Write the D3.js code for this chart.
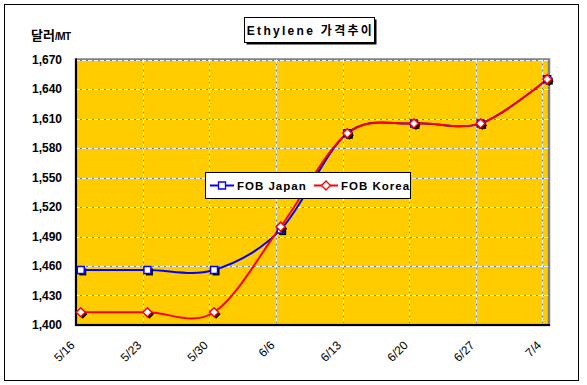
<!DOCTYPE html>
<html><head><meta charset="utf-8">
<script src="https://cdn.jsdelivr.net/npm/d3@7"></script>
<style>
html,body{margin:0;padding:0;background:#fff;}
text{font-family:"Liberation Sans",Arial,sans-serif;}
</style></head>
<body><svg id="c" width="587" height="385"></svg>
<script>
const categories = ["5/16","5/23","5/30","6/6","6/13","6/20","6/27","7/4"];
const fobJapan = [1456,1456,1456,1497,1595,1605,1605,1650];
const fobKorea = [1413,1413,1413,1500,1595,1605,1605,1650];
const yTicks = [1400,1430,1460,1490,1520,1550,1580,1610,1640,1670];
const seriesNames = ["FOB Japan","FOB Korea"];
const titleText = "Ethylene 가격추이";
const yUnit = ["달러","/MT"];

const parse = s => { const [m,d] = s.split("/").map(Number); return new Date(2008, m-1, d); };
const dates = categories.map(parse);

const svg = d3.select("#c");
const L = 76, R = 549, T = 59.5, B = 325;

const x = d3.scaleTime()
  .domain([dates[0], d3.timeDay.offset(dates[dates.length-1], 1)])
  .range([L, L + 476]);
const y = d3.scaleLinear().domain([1400,1670]).range([B, T]);
const px = d => x(d3.timeHour.offset(d, 12));

// outer border
svg.append("rect").attr("x",4.5).attr("y",4.5).attr("width",574).attr("height",376)
  .attr("fill","#fff").attr("stroke","#000").attr("stroke-width",1);

// plot area
svg.append("rect").attr("x",L).attr("y",T).attr("width",R-L).attr("height",B-T)
  .attr("fill","#FFCC00").attr("stroke","#808080").attr("stroke-width",2.5);

// gridlines
const grid = svg.append("g");
yTicks.slice(1).forEach(v => {
  [["#808080",null],["#fff","4,2"]].forEach(([c,da]) => {
    grid.append("line").attr("x1",L).attr("x2",R).attr("y1",Math.round(y(v))+0.5).attr("y2",Math.round(y(v))+0.5)
      .attr("stroke",c).attr("stroke-width",1).attr("stroke-dasharray",da);
  });
});
dates.slice(1).forEach(d => {
  [["#808080",null],["#fff","4,2"]].forEach(([c,da]) => {
    grid.append("line").attr("x1",Math.round(x(d))+0.5).attr("x2",Math.round(x(d))+0.5).attr("y1",T).attr("y2",B)
      .attr("stroke",c).attr("stroke-width",1).attr("stroke-dasharray",da);
  });
});

// axes lines
svg.append("line").attr("x1",L).attr("x2",L).attr("y1",T-1).attr("y2",B).attr("stroke","#000").attr("stroke-width",2);
svg.append("line").attr("x1",L-1).attr("x2",R+1).attr("y1",B).attr("y2",B).attr("stroke","#000").attr("stroke-width",2);

// y axis ticks
const yAxis = d3.axisLeft(y).tickValues(yTicks).tickSize(0).tickPadding(14).tickFormat(d3.format(","));
const yg = svg.append("g").attr("transform",`translate(${L},0)`).call(yAxis);
yg.select(".domain").remove();
yg.selectAll("text").attr("font-size",12).attr("font-weight","bold").attr("fill","#000")
  .attr("font-family","'Liberation Sans',Arial,sans-serif");

// x axis ticks
const xAxis = d3.axisBottom(x).tickValues(dates).tickSize(0).tickFormat((d,i)=>categories[i]);
const xg = svg.append("g").attr("transform",`translate(0,${B})`).call(xAxis);
xg.select(".domain").remove();
xg.selectAll("text").attr("font-size",12).attr("fill","#000")
  .attr("font-family","'Liberation Sans',Arial,sans-serif")
  .attr("text-anchor","end").attr("dy",0).attr("y",0)
  .attr("transform","translate(-1,21) rotate(-45)");

// lines
const line = d3.line().x((v,i)=>px(dates[i])).y(v=>y(v)).curve(d3.curveCardinal.tension(0));
const series = [
  {vals: fobJapan, color:"#0000FF", shape:"square"},
  {vals: fobKorea, color:"#FF0000", shape:"diamond"}
];
const markerPath = (shape) => shape==="square"
  ? "M-3.5,-3.5H3.5V3.5H-3.5Z"
  : "M0,-4.5L4.5,0L0,4.5L-4.5,0Z";

series.forEach(s => {
  svg.append("path").datum(s.vals).attr("d",line).attr("fill","none")
    .attr("stroke",s.color).attr("stroke-width",2);
});
series.forEach(s => {
  const g = svg.append("g");
  s.vals.forEach((v,i) => {
    g.append("path").attr("d",markerPath(s.shape))
      .attr("transform",`translate(${px(dates[i])+2},${y(v)+2})`).attr("fill","#000");
    g.append("path").attr("d",markerPath(s.shape))
      .attr("transform",`translate(${px(dates[i])},${y(v)})`)
      .attr("fill","#fff").attr("stroke",s.color).attr("stroke-width",1.5);
  });
});

// legend
const lg = svg.append("g");
lg.append("rect").attr("x",205.5).attr("y",172.5).attr("width",205).attr("height",26)
  .attr("fill","#fff").attr("stroke","#000").attr("stroke-width",1);
const legendPos = [{lx:210, tx:237},{lx:314, tx:341}];
series.forEach((s,i) => {
  const p = legendPos[i];
  lg.append("line").attr("x1",p.lx).attr("x2",p.lx+24).attr("y1",185.5).attr("y2",185.5)
    .attr("stroke",s.color).attr("stroke-width",2);
  lg.append("path").attr("d",markerPath(s.shape)).attr("transform",`translate(${p.lx+12},185.5)`)
    .attr("fill","#fff").attr("stroke",s.color).attr("stroke-width",1.3);
  lg.append("text").attr("x",p.tx).attr("y",190).attr("font-size",11.5).attr("font-weight","bold")
    .attr("letter-spacing","1px").text(seriesNames[i]);
});

// title
svg.append("rect").attr("x",246.5).attr("y",19.5).attr("width",130).attr("height",25).attr("fill","#000");
svg.append("rect").attr("x",244.5).attr("y",17.5).attr("width",130).attr("height",25)
  .attr("fill","#fff").attr("stroke","#000").attr("stroke-width",1);
svg.append("text").attr("x",310.5).attr("y",35).attr("text-anchor","middle")
  .attr("font-size",12).attr("font-weight","bold").attr("letter-spacing","2.3px")
  .style("font-family","'Liberation Sans','Noto Sans CJK KR',sans-serif").text(titleText);

// y unit label
const ul = svg.append("text").attr("x",31).attr("y",40).attr("font-weight","bold")
  .style("font-family","'Liberation Sans','Noto Sans CJK KR',sans-serif");
ul.append("tspan").attr("font-size",13).text(yUnit[0]);
ul.append("tspan").attr("font-size",10).attr("letter-spacing","-0.5px").text(yUnit[1]);
</script></body></html>
